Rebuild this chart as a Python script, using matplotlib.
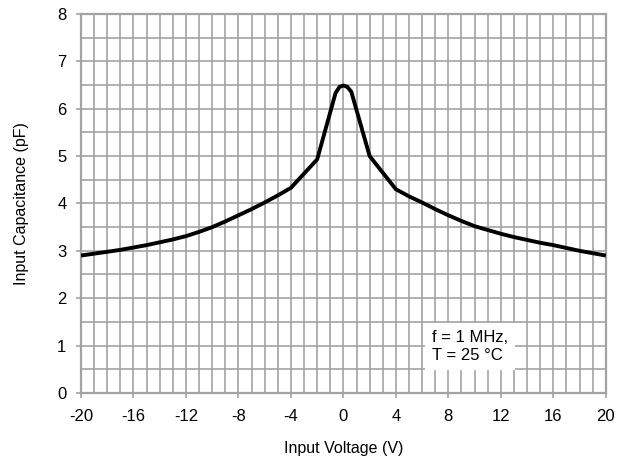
import numpy as np
import matplotlib
matplotlib.use("Agg")
import matplotlib.pyplot as plt

plt.rcParams['font.family'] = ['Liberation Sans', 'DejaVu Sans']
plt.rcParams['axes.unicode_minus'] = False

# input voltage (V) and input capacitance (pF)
voltage = [-20, -19, -18, -17, -16, -15, -14, -13, -12, -11, -10, -9, -8, -7, -6, -5, -4, -2,
           -0.6, -0.3, 0, 0.3, 0.6, 2, 4, 5, 6, 7, 8, 9, 10, 11, 12, 13, 14, 15, 16, 17, 18, 19, 20]
capacitance = [2.90, 2.94, 2.98, 3.02, 3.07, 3.12, 3.18, 3.24, 3.31, 3.40, 3.50, 3.62, 3.75, 3.88, 4.02, 4.17, 4.33, 4.93,
               6.33, 6.46, 6.49, 6.46, 6.36, 5.00, 4.30, 4.15, 4.02, 3.88, 3.75, 3.63, 3.52, 3.44, 3.36, 3.29, 3.23,
               3.17, 3.12, 3.06, 3.00, 2.95, 2.90]

xticks = [-20, -16, -12, -8, -4, 0, 4, 8, 12, 16, 20]
yticks = [0, 1, 2, 3, 4, 5, 6, 7, 8]
note = "f = 1 MHz,\nT = 25 °C"

fig = plt.figure(figsize=(6.33, 4.59), dpi=100)
ax = fig.add_axes([0.128, 0.144, 0.829, 0.8255])

grid_col = '#a3a3a3'
ax.set_xlim(-20, 20)
ax.set_ylim(0, 8)
ax.set_xticks(xticks)
ax.set_yticks(yticks)
ax.set_xticks(np.arange(-20, 21, 1), minor=True)
ax.set_yticks(np.arange(0, 8.01, 0.5), minor=True)
ax.grid(which='both', color=grid_col, linewidth=1.2)
ax.set_axisbelow(True)

ax.plot(voltage, capacitance, color='black', linewidth=2.8, solid_joinstyle='round',
        solid_capstyle='butt', zorder=3)

for s in ax.spines.values():
    s.set_color(grid_col)
    s.set_linewidth(1.6)

ax.tick_params(which='major', length=3.5, width=1.2, color=grid_col, labelsize=12)
ax.tick_params(axis='x', which='major', pad=8)
ax.tick_params(axis='y', which='major', pad=7)
ax.tick_params(which='minor', length=0)

ax.set_xlabel('Input Voltage (V)', fontsize=11.5, labelpad=12)
ax.set_ylabel('Input Capacitance (pF)', fontsize=11.5, labelpad=20)

ax.text(6.75, 0.97, note, fontsize=12, ha='left', va='center', linespacing=1.25,
        bbox=dict(facecolor='white', edgecolor='none', pad=5), zorder=4)

fig.savefig('out.png', dpi=100)
